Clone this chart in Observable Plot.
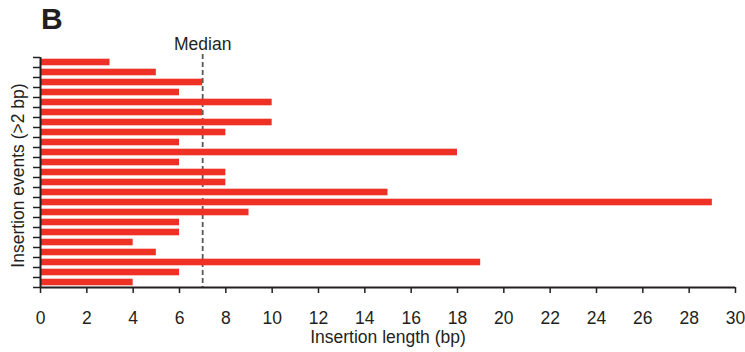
<!DOCTYPE html>
<html>
<head>
<meta charset="utf-8">
<script src="https://cdn.jsdelivr.net/npm/d3@7"></script>
<script src="https://cdn.jsdelivr.net/npm/@observablehq/plot@0.6"></script>
<style>
  body { margin: 0; background: #fff; }
  #wrap { position: relative; width: 745px; height: 352px; font-family: "Liberation Sans", Arial, sans-serif; }
  #panel { position: absolute; left: 41px; top: 2px; font-size: 30px; font-weight: bold; color: #231f20; }
  svg { display: block; }
</style>
</head>
<body>
<div id="wrap"><div id="panel">B</div></div>
<script>
const events = d3.range(1, 24);
const lengths = [3, 5, 7, 6, 10, 7, 10, 8, 6, 18, 6, 8, 8, 15, 29, 9, 6, 6, 4, 5, 19, 6, 4];
const xTicks = d3.range(0, 31, 2);
const median = 7;
const labels = { x: "Insertion length (bp)", y: "Insertion events (>2 bp)", median: "Median" };

const rows = events.map((e, i) => ({ event: e, idx: i, len: lengths[i] }));
const ink = "#231f20";

const chart = Plot.plot({
  width: 745,
  height: 352,
  marginLeft: 40,
  marginRight: 10,
  marginTop: 57,
  marginBottom: 65,
  style: { fontFamily: "Liberation Sans, Arial, sans-serif", fontSize: "17.5px", color: ink, background: "transparent" },
  x: { domain: [0, 30], axis: null },
  y: { domain: [0, events.length], reverse: true, axis: null },
  marks: [
    Plot.ruleX([median], { y1: -0.3, y2: events.length, stroke: "#5a5a5a", strokeWidth: 1.8, strokeDasharray: "5,3" }),
    Plot.rectX(rows, { x1: 0, x2: "len", y1: d => d.idx + 0.17, y2: d => d.idx + 0.83, fill: "#ee3124" }),
    Plot.axisY(d3.range(0, events.length + 1), { tickSize: 7, tickFormat: () => "", strokeWidth: 1.5, label: null }),
    Plot.axisX(xTicks, { tickSize: 6, tickPadding: 18, strokeWidth: 1.5, label: null, fontSize: 17.5 }),
    Plot.ruleX([0], { y1: 0, y2: events.length, stroke: ink, strokeWidth: 2 }),
    Plot.ruleY([events.length], { x1: 0, x2: 30, stroke: ink, strokeWidth: 2 }),
    Plot.text([labels.median], { x: median, y: 0, dy: -13, fontSize: 17.5 }),
    Plot.text([labels.x], { frameAnchor: "bottom", dy: 55, fontSize: 17.5 }),
    Plot.text([labels.y], { frameAnchor: "left", textAnchor: "middle", dx: -22, dy: 3, rotate: -90, fontSize: 17.5 })
  ]
});
document.getElementById("wrap").appendChild(chart);
chart.style.position = "absolute";
chart.style.left = "0";
chart.style.top = "0";
</script>
</body>
</html>
